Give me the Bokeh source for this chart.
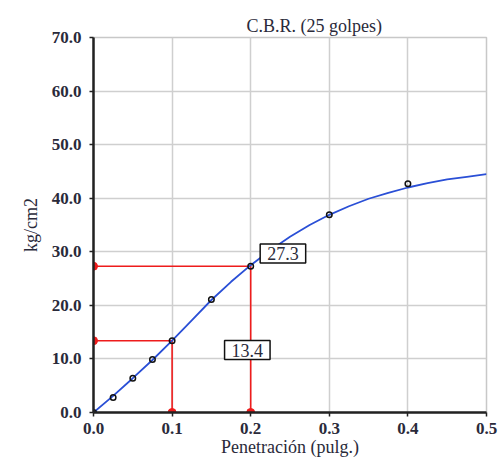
from bokeh.plotting import figure
from bokeh.models import Label, Range1d, FixedTicker, CustomJSTickFormatter
from bokeh.embed import file_html
from bokeh.resources import INLINE

# measured data points
pen = [0.0, 0.025, 0.05, 0.075, 0.1, 0.15, 0.2, 0.3, 0.4]
load = [0.0, 2.8, 6.4, 9.9, 13.4, 21.1, 27.3, 36.9, 42.7]

# smooth curve
curve_x = [0.0, 0.025, 0.05, 0.075, 0.1, 0.125, 0.15, 0.175, 0.2, 0.225, 0.25, 0.275,
           0.3, 0.325, 0.35, 0.375, 0.4, 0.425, 0.45, 0.475, 0.5]
curve_y = [0.0, 3.1, 6.4, 9.8, 13.4, 17.2, 21.0, 24.4, 27.5, 30.3, 32.8, 35.0,
           36.9, 38.5, 39.9, 41.0, 42.0, 42.8, 43.5, 44.0, 44.5]

# CBR reading points
cbr_x = [0.1, 0.2]
cbr_y = [13.4, 27.3]
cbr_labels = ["13.4", "27.3"]

x_ticks = [0.0, 0.1, 0.2, 0.3, 0.4, 0.5]
y_ticks = [0, 10, 20, 30, 40, 50, 60, 70]

SERIF = "Liberation Serif"
TXT = "#2a2a3a"

p = figure(frame_width=393, frame_height=375, output_backend="svg", toolbar_location=None,
           x_range=Range1d(0, 0.5), y_range=Range1d(0, 70),
           min_border_left=93, min_border_right=12, min_border_top=37, min_border_bottom=52)
p.title.text = "C.B.R. (25 golpes)"
p.title.align = "left"
p.title.offset = 153
p.title.text_font = SERIF
p.title.text_font_size = "18px"
p.title.text_font_style = "normal"
p.title.text_color = TXT
p.title.standoff = 4

p.outline_line_color = "#c8c8c8"
p.outline_line_width = 1.5
p.background_fill_color = "white"

for ax in (p.xaxis[0], p.yaxis[0]):
    ax.axis_line_color = "#222222"
    ax.axis_line_width = 2.5
    ax.major_tick_line_color = "#222222"
    ax.major_tick_line_width = 1.5
    ax.major_tick_out = 4
    ax.major_tick_in = 0
    ax.minor_tick_line_color = None
    ax.major_label_text_font = SERIF
    ax.major_label_text_font_size = "17px"
    ax.major_label_text_font_style = "bold"
    ax.major_label_text_color = TXT
    ax.axis_label_text_font = SERIF
    ax.axis_label_text_font_size = "18px"
    ax.axis_label_text_font_style = "normal"
    ax.axis_label_text_color = TXT

p.xaxis.ticker = FixedTicker(ticks=x_ticks)
p.yaxis.ticker = FixedTicker(ticks=y_ticks)
p.xaxis.formatter = CustomJSTickFormatter(code="return tick.toFixed(1);")
p.yaxis.formatter = CustomJSTickFormatter(code="return tick.toFixed(1);")
p.xaxis.axis_label = "Penetración (pulg.)"
p.yaxis.axis_label = "kg/cm2"
p.xaxis.axis_label_standoff = 0
p.yaxis.axis_label_standoff = 8
p.xaxis.major_label_standoff = 6
p.yaxis.major_label_standoff = 8

p.xgrid.grid_line_color = "#cfcfcf"
p.ygrid.grid_line_color = "#cfcfcf"
p.xgrid.grid_line_width = 1.5
p.ygrid.grid_line_width = 1.5

# red guide lines
for cx, cy in zip(cbr_x, cbr_y):
    p.line([0, cx, cx], [cy, cy, 0], line_color="#ee1c1c", line_width=1.6)
    p.scatter([0, cx], [cy, 0], size=8, color="#ee1c1c")

p.line(curve_x, curve_y, line_color="#2a4fd6", line_width=1.8)
p.scatter(pen, load, size=5.5, fill_color=None, line_color="#111111", line_width=1.5)

# label boxes
label_pos = [(0.1957, 11.66), (0.241, 29.7)]
for (lx, ly), t in zip(label_pos, cbr_labels):
    p.add_layout(Label(x=lx, y=ly, text=t, text_align="center", text_baseline="middle",
                       text_font=SERIF, text_font_size="18px", text_color=TXT,
                       background_fill_color="white", border_line_color="#111111",
                       border_line_width=1.5,
                       padding=dict(left=7, right=7, top=3, bottom=3)))

open("out.html", "w").write(file_html(p, INLINE))
